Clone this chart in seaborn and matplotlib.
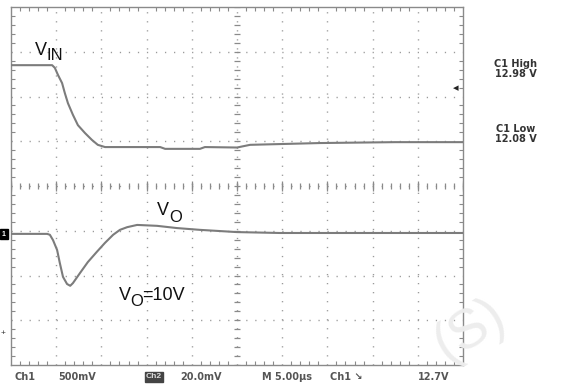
"""
Oscilloscope capture: line transient, V_IN step and V_O response
"""
import numpy as np
import pandas as pd
import matplotlib
matplotlib.use("Agg")
import matplotlib.pyplot as plt
import seaborn as sns

# time axis in divisions (5.00us/div), voltage in divisions from bottom of screen
vin_x = [0.0, 0.5, 0.91, 0.97, 1.04, 1.13, 1.19, 1.26, 1.37, 1.48, 1.64, 1.79,
         1.92, 2.08, 2.85, 3.3, 3.41, 4.18, 4.29, 5.0, 5.29, 6.84, 8.5, 10.0]
vin_y = [6.70, 6.70, 6.70, 6.64, 6.48, 6.30, 6.08, 5.85, 5.59, 5.36, 5.18, 5.03,
         4.92, 4.87, 4.87, 4.87, 4.83, 4.83, 4.87, 4.86, 4.92, 4.96, 4.98, 4.98]

vo_x = [0.0, 0.42, 0.80, 0.86, 0.93, 1.02, 1.08, 1.15, 1.24, 1.31, 1.37, 1.53,
        1.70, 1.90, 2.08, 2.26, 2.41, 2.57, 2.79, 3.23, 3.67, 4.18, 5.0, 5.95,
        7.5, 9.0, 10.0]
vo_y = [2.93, 2.93, 2.93, 2.91, 2.79, 2.57, 2.28, 1.97, 1.81, 1.77, 1.83, 2.06,
        2.30, 2.53, 2.73, 2.91, 3.02, 3.08, 3.13, 3.11, 3.06, 3.02, 2.97, 2.95,
        2.95, 2.95, 2.95]

readout_high = ["C1 High", "12.98 V"]
readout_low = ["C1 Low", "12.08 V"]

sns.set_style("white")
plt.rcParams["font.family"] = ["Liberation Sans", "DejaVu Sans"]

fig = plt.figure(figsize=(5.63, 3.84), dpi=100)
ax = fig.add_axes([11 / 563, 19 / 384, 452 / 563, 358 / 384])

df = pd.concat([
    pd.DataFrame({"t": vin_x, "v": vin_y, "trace": "VIN"}),
    pd.DataFrame({"t": vo_x, "v": vo_y, "trace": "VO"}),
])
sns.lineplot(data=df, x="t", y="v", units="trace", estimator=None,
             color="#7c7c7c", lw=1.5, ax=ax, legend=False, zorder=5)
for line in ax.get_lines():
    line.set_solid_joinstyle("round")

ax.set_xlim(0, 10)
ax.set_ylim(0, 8)
ax.set_xlabel("")
ax.set_ylabel("")

# graticule
grid_kw = dict(color="#9a9a9a", lw=1.0, dashes=(0.9, 5.6), zorder=1)
for gx in range(1, 10):
    ax.axvline(gx, **grid_kw)
for gy in range(1, 8):
    ax.axhline(gy, **grid_kw)
minor_x = np.arange(0, 10.01, 0.2)
minor_y = np.arange(0, 8.01, 0.2)
ax.plot(minor_x, np.full(len(minor_x), 4.0), "|", color="#8a8a8a", ms=4, mew=0.9, zorder=2)
ax.plot(np.full(len(minor_y), 5.0), minor_y, "_", color="#8a8a8a", ms=4, mew=0.9, zorder=2)
ax.plot(range(11), np.full(11, 4.0), "|", color="#8a8a8a", ms=7, mew=0.9, zorder=2)

ax.set_xticks(range(11))
ax.set_yticks(range(9))
ax.set_xticks(minor_x, minor=True)
ax.set_yticks(minor_y, minor=True)
ax.tick_params(which="both", direction="in", top=True, right=True, left=True, bottom=True,
               color="#8a8a8a", labelbottom=False, labelleft=False)
ax.tick_params(which="major", length=0)
ax.tick_params(which="minor", length=3, width=0.8)
for s in ax.spines.values():
    s.set_color("#8a8a8a")
    s.set_linewidth(1.0)

# trace labels
fig.text(35 / 563, 1 - 55 / 384, "V", fontsize=13, color="#111111")
fig.text(47 / 563, 1 - 60 / 384, "IN", fontsize=12, color="#111111")
fig.text(157 / 563, 1 - 215 / 384, "V", fontsize=13, color="#111111")
fig.text(169 / 563, 1 - 222 / 384, "O", fontsize=12, color="#111111")
fig.text(119 / 563, 1 - 300 / 384, "V", fontsize=13, color="#111111")
fig.text(130 / 563, 1 - 306 / 384, "O", fontsize=12, color="#111111")
fig.text(142 / 563, 1 - 300 / 384, "=10V", fontsize=13, color="#111111")

# measurement readouts
ro_kw = dict(fontsize=7, color="#333333", ha="center", family="DejaVu Sans Condensed",
             fontweight="bold", linespacing=0.95)
fig.text(516 / 563, 1 - 77 / 384, "\n".join(readout_high), **ro_kw)
fig.text(516 / 563, 1 - 142 / 384, "\n".join(readout_low), **ro_kw)

# scope markers
fig.text(4 / 563, 1 - 234 / 384, "1", fontsize=5, color="white", ha="center", va="center",
         fontweight="bold", bbox=dict(boxstyle="square,pad=0.25", fc="black", ec="black"))
fig.text(3 / 563, 1 - 334 / 384, "+", fontsize=6, color="#333333", ha="center", va="center")
fig.text(456 / 563, 1 - 88 / 384, "\u25c2", fontsize=8, color="#222222", ha="center", va="center")

# bottom status line
st_kw = dict(fontsize=7, color="#555555", family="DejaVu Sans Condensed", fontweight="bold",
             va="center")
fig.text(15 / 563, 1 - 377 / 384, "Ch1", **st_kw)
fig.text(58 / 563, 1 - 377 / 384, "500mV", **st_kw)
fig.text(146 / 563, 1 - 377 / 384, "Ch2", color="#dddddd", fontsize=6, va="center",
         fontweight="bold", bbox=dict(boxstyle="square,pad=0.15", fc="#444444", ec="#444444"))
fig.text(180 / 563, 1 - 377 / 384, "20.0mV", **st_kw)
fig.text(262 / 563, 1 - 377 / 384, "M 5.00\u00b5s", **st_kw)
fig.text(330 / 563, 1 - 377 / 384, "Ch1 \u2198", **st_kw)
fig.text(418 / 563, 1 - 377 / 384, "12.7V", **st_kw)

# faint watermark
fig.text(470 / 563, 1 - 330 / 384, "(S)", fontsize=40, color="#ededed", rotation=32,
         ha="center", va="center", zorder=0)

fig.savefig("out.png", dpi=100)
